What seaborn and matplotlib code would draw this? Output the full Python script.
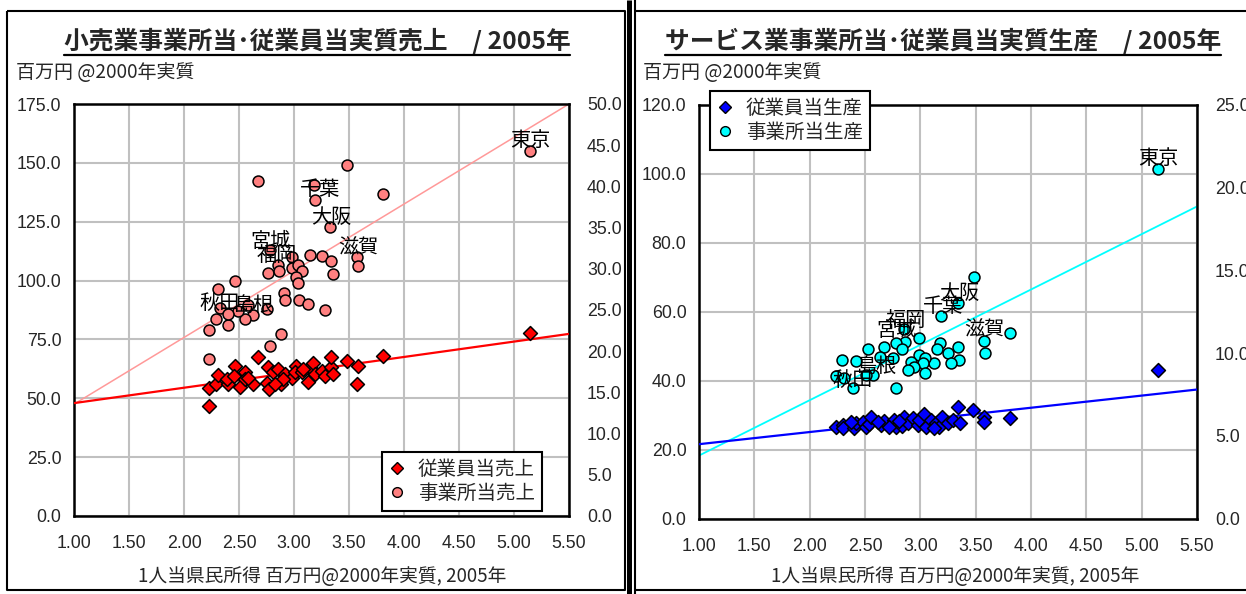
import numpy as np
import pandas as pd
import matplotlib
matplotlib.use("Agg")
import matplotlib.pyplot as plt
import seaborn as sns
from matplotlib.lines import Line2D

# ---------------- data ----------------
# Left panel: retail
retail_est_x = [3.485, 2.676, 3.18, 3.19, 3.81, 3.33, 2.78, 2.98, 3.145, 3.25, 3.336, 3.575, 3.585, 3.35,
                2.85, 2.767, 2.866, 2.985, 3.04, 3.075, 3.02, 3.04, 2.46, 2.31, 2.91, 2.92, 3.045, 3.13,
                3.28, 2.75, 2.63, 2.555, 2.494, 2.327, 2.288, 2.40, 2.23, 2.40, 2.585, 2.88, 2.78, 2.23, 5.145]
retail_est_y = [149.3, 142.2, 140.7, 134.3, 136.8, 122.6, 112.9, 109.8, 111.0, 110.3, 108.3, 109.8, 106.1, 102.7,
                106.8, 103.3, 104.0, 105.4, 106.5, 104.1, 101.6, 99.1, 99.9, 96.6, 94.9, 91.6, 91.6, 90.2,
                87.3, 88.0, 85.5, 83.8, 86.9, 88.3, 83.8, 81.2, 79.1, 85.9, 89.7, 77.4, 72.1, 66.7, 155.0]
retail_emp_x = [2.23, 2.227, 2.288, 2.306, 2.40, 2.39, 2.464, 2.457, 2.509, 2.555, 2.555, 2.63, 2.675, 2.75,
                2.773, 2.766, 2.81, 2.857, 2.88, 2.918, 2.98, 3.02, 3.01, 3.07, 3.13, 3.145, 3.175, 3.19,
                3.25, 3.28, 3.34, 3.336, 3.357, 3.485, 3.585, 3.575, 3.81, 2.585, 2.90, 3.085, 2.827, 5.145]
retail_emp_y = [13.35, 15.5, 16.08, 17.1, 16.08, 16.6, 18.23, 16.93, 15.71, 17.5, 16.6, 16.08, 19.26, 16.2,
                15.47, 18.03, 17.42, 17.83, 16.08, 17.22, 16.8, 18.23, 17.42, 17.42, 16.28, 18.03, 18.56, 17.22,
                17.62, 17.0, 18.03, 19.26, 17.22, 18.84, 18.23, 16.08, 19.45, 16.8, 16.6, 17.83, 16.0, 22.19]
retail_est_trend_x = [1.0, 5.5]
retail_est_trend_y = [47.5, 175.0]
retail_emp_trend_x = [1.0, 5.5]
retail_emp_trend_y = [13.7, 22.1]
retail_label_names = ["東京", "千葉", "大阪", "滋賀", "宮城", "福岡", "秋田", "島根"]
retail_label_x = [5.145, 3.236, 3.343, 3.585, 2.79, 2.843, 2.327, 2.63]
retail_label_y = [159.4, 138.6, 126.8, 114.0, 116.5, 110.8, 90.2, 89.4]

# Right panel: services
serv_est_x = [3.484, 3.339, 3.188, 2.856, 2.986, 2.865, 2.78, 2.835, 2.675, 2.524, 3.807, 3.571, 3.587, 3.18,
              3.149, 3.339, 3.248, 3.348, 3.279, 3.128, 2.986, 3.046, 3.022, 2.917, 2.947, 2.886, 3.046, 2.756,
              2.636, 2.418, 2.292, 2.569, 2.509, 2.237, 2.312, 2.388, 2.78, 5.15]
serv_est_y = [70.1, 62.4, 58.8, 54.9, 52.5, 51.3, 50.8, 49.1, 49.7, 49.1, 53.9, 51.6, 47.9, 50.8,
              49.1, 49.7, 47.9, 46.0, 45.2, 45.0, 47.4, 46.5, 45.0, 45.5, 43.9, 43.1, 42.1, 46.5,
              47.0, 45.8, 46.0, 41.7, 41.7, 41.4, 40.7, 37.8, 37.8, 101.3]
serv_emp_x = [2.237, 2.297, 2.30, 2.40, 2.418, 2.478, 2.509, 2.539, 2.554, 2.645, 2.675, 2.765, 2.78, 2.835,
              2.856, 2.886, 2.931, 2.977, 2.992, 3.037, 3.052, 3.098, 3.143, 3.173, 3.197, 3.248, 3.294, 3.339,
              3.354, 3.48, 3.571, 3.571, 3.807, 2.373, 2.614, 2.72, 2.81, 3.128, 5.15]
serv_emp_y = [5.56, 5.66, 5.50, 5.46, 5.76, 5.86, 5.56, 5.70, 6.16, 5.66, 5.90, 5.96, 5.56, 5.62,
              6.16, 5.76, 6.06, 5.66, 5.96, 6.30, 5.56, 5.96, 5.76, 5.56, 6.16, 5.76, 5.96, 6.73,
              5.76, 6.56, 6.16, 5.86, 6.06, 5.86, 5.86, 5.56, 5.90, 5.46, 8.98]
serv_est_trend_x = [1.0, 5.5]
serv_est_trend_y = [18.3, 90.5]
serv_emp_trend_x = [1.0, 5.5]
serv_emp_trend_y = [4.5, 7.8]
serv_label_names = ["東京", "大阪", "千葉", "福岡", "宮城", "滋賀", "島根", "秋田"]
serv_label_x = [5.15, 3.354, 3.209, 2.865, 2.78, 3.58, 2.60, 2.388]
serv_label_y = [104.5, 65.3, 61.4, 57.6, 54.5, 54.7, 44.1, 40.2]

x_ticks = [1.0, 1.5, 2.0, 2.5, 3.0, 3.5, 4.0, 4.5, 5.0, 5.5]
left_title = "小売業事業所当･従業員当実質売上　/ 2005年"
right_title = "サービス業事業所当･従業員当実質生産　/ 2005年"
unit_label = "百万円 @2000年実質"
x_label = "1人当県民所得 百万円@2000年実質, 2005年"
left_legend = ["従業員当売上", "事業所当売上"]
right_legend = ["従業員当生産", "事業所当生産"]

# ---------------- style ----------------
sns.set_style("white")
plt.rcParams['font.family'] = ['Liberation Sans', 'Noto Sans CJK JP']
JP = ['Noto Sans CJK JP', 'Liberation Sans']

W, H = 1246, 594
fig = plt.figure(figsize=(W / 100, H / 100), dpi=100)


def fx(px):
    return px / W


def fy(py):
    return 1 - py / H


def make_axes(x0, x1, y0, y1):
    ax = fig.add_axes([fx(x0), fy(y1), (x1 - x0) / W, (y1 - y0) / H])
    ax2 = ax.twinx()
    return ax, ax2


axL, axL2 = make_axes(74, 569, 104, 516)
axR, axR2 = make_axes(699, 1197, 104.7, 518.7)

TICK_FS = 12.8


def style_axes(ax, ax2, ymax, ystep, y2max, y2step):
    ax.set_xlim(1.0, 5.5)
    ax.set_ylim(0, ymax)
    ax2.set_ylim(0, y2max)
    ax.set_xticks(x_ticks)
    ax.set_xticklabels([f"{v:.2f}" for v in x_ticks])
    yt = np.arange(0, ymax + 0.01, ystep)
    ax.set_yticks(yt)
    ax.set_yticklabels([f"{v:.1f}" for v in yt])
    y2t = np.arange(0, y2max + 0.01, y2step)
    ax2.set_yticks(y2t)
    ax2.set_yticklabels([f"{v:.1f}" for v in y2t])
    ax.grid(True, color='#C0C0C0', linewidth=1.5)
    ax.set_axisbelow(True)
    ax2.grid(False)
    ax.tick_params(axis='x', length=0, pad=14, labelsize=TICK_FS)
    ax.tick_params(axis='y', length=0, pad=9, labelsize=TICK_FS)
    ax2.tick_params(axis='y', length=0, pad=13, labelsize=TICK_FS)
    for s in ax.spines.values():
        s.set_visible(True)
        s.set_color('black')
        s.set_linewidth(1.8)
    for s in ax2.spines.values():
        s.set_visible(False)


style_axes(axL, axL2, 175, 25, 50, 5)
style_axes(axR, axR2, 120, 20, 25, 5)

LABEL_FS = 14.5

# ---------------- left panel ----------------
sns.lineplot(x=retail_est_trend_x, y=retail_est_trend_y, ax=axL, color='#FF9999', linewidth=1.1, zorder=2)
sns.scatterplot(x=retail_est_x, y=retail_est_y, ax=axL, marker='o', s=62, color='#FF8080',
                edgecolor='black', linewidth=1.1, zorder=3)
sns.lineplot(x=retail_emp_trend_x, y=retail_emp_trend_y, ax=axL2, color='#FF0000', linewidth=1.6, zorder=2)
sns.scatterplot(x=retail_emp_x, y=retail_emp_y, ax=axL2, marker='D', s=50, color='#FF0000',
                edgecolor='black', linewidth=1.1, zorder=3)
for n, x, y in zip(retail_label_names, retail_label_x, retail_label_y):
    axL.text(x, y, n, ha='center', va='center', fontsize=LABEL_FS, family=JP, color='black', zorder=4)

# ---------------- right panel ----------------
sns.lineplot(x=serv_est_trend_x, y=serv_est_trend_y, ax=axR, color='#00FFFF', linewidth=1.3, zorder=2)
sns.scatterplot(x=serv_est_x, y=serv_est_y, ax=axR, marker='o', s=62, color='#00FFFF',
                edgecolor='black', linewidth=1.1, zorder=3)
sns.lineplot(x=serv_emp_trend_x, y=serv_emp_trend_y, ax=axR2, color='#0000FF', linewidth=1.6, zorder=2)
sns.scatterplot(x=serv_emp_x, y=serv_emp_y, ax=axR2, marker='D', s=50, color='#0000FF',
                edgecolor='black', linewidth=1.1, zorder=3)
for n, x, y in zip(serv_label_names, serv_label_x, serv_label_y):
    axR.text(x, y, n, ha='center', va='center', fontsize=LABEL_FS, family=JP, color='black', zorder=4)

for a in (axL, axL2, axR, axR2):
    a.set_xlim(1.0, 5.5)
    a.set_xlabel("")
    a.set_ylabel("")


# ---------------- legends ----------------
def add_legend(ax, labels, c_emp, c_est, x0, y0):
    handles = [
        Line2D([], [], linestyle='none', marker='D', markersize=6, markerfacecolor=c_emp,
               markeredgecolor='black', markeredgewidth=1.0),
        Line2D([], [], linestyle='none', marker='o', markersize=7, markerfacecolor=c_est,
               markeredgecolor='black', markeredgewidth=1.0),
    ]
    leg = ax.legend(handles, labels, loc='upper left', bbox_to_anchor=(fx(x0), fy(y0)),
                    bbox_transform=fig.transFigure, borderaxespad=0, frameon=True, fancybox=False,
                    prop={'family': JP, 'size': 14}, handlelength=0.8, handletextpad=0.7,
                    labelspacing=0.15, borderpad=0.35)
    fr = leg.get_frame()
    fr.set_edgecolor('black')
    fr.set_linewidth(1.5)
    fr.set_facecolor('white')
    fr.set_alpha(1)
    leg.set_zorder(10)


add_legend(axL2, left_legend, '#FF0000', '#FF8080', 382, 452)
add_legend(axR2, right_legend, '#0000FF', '#00FFFF', 710, 91)

# ---------------- texts ----------------
t1 = fig.text(fx(317), fy(41), left_title, ha='center', va='center', fontsize=17.8, weight='bold', family=JP)
t2 = fig.text(fx(943), fy(41), right_title, ha='center', va='center', fontsize=17.8, weight='bold', family=JP)
fig.text(fx(16), fy(73), unit_label, ha='left', va='center', fontsize=13.7, family=JP)
fig.text(fx(643), fy(73), unit_label, ha='left', va='center', fontsize=13.7, family=JP)
fig.text(fx(322), fy(577), x_label, ha='center', va='center', fontsize=13.5, family=JP)
fig.text(fx(955), fy(577), x_label, ha='center', va='center', fontsize=13.5, family=JP)

# underline titles
fig.canvas.draw()
r = fig.canvas.get_renderer()
for t in (t1, t2):
    bb = t.get_window_extent(renderer=r)
    yline = bb.y0 - 1
    fig.add_artist(Line2D([bb.x0 / W, bb.x1 / W], [yline / H, yline / H], transform=fig.transFigure,
                          color='black', linewidth=1.6))


# ---------------- frames ----------------
def fline(xs, ys, lw):
    fig.add_artist(Line2D([fx(v) for v in xs], [fy(v) for v in ys], transform=fig.transFigure,
                          color='black', linewidth=lw, solid_capstyle='butt'))


fline([6.5, 624.5, 624.5, 6.5, 6.5], [10.5, 10.5, 590, 590, 10.5], 1.5)
fline([628.5, 628.5], [0, H], 3.6)
fline([634.5, 634.5], [0, H], 1.5)
fline([634.5, W], [10.5, 10.5], 1.5)
fline([634.5, W], [590, 590], 1.5)

fig.savefig("out.png", dpi=100)
